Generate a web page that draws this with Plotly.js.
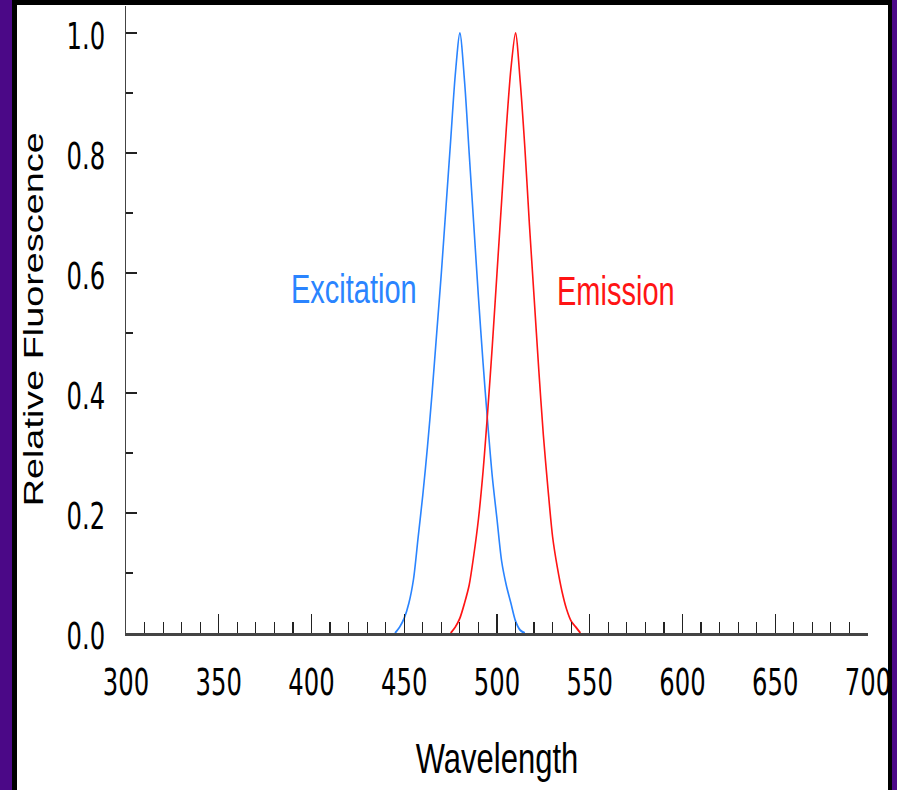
<!DOCTYPE html>
<html><head><meta charset="utf-8">
<script src="https://cdn.plot.ly/plotly-3.0.1.min.js"></script>
<style>
html,body{margin:0;padding:0;}
body{width:897px;height:790px;background:#4b0887;position:relative;overflow:hidden;}
#frame{position:absolute;left:12px;top:0;width:880px;height:790px;background:#000;}
#inner{position:absolute;left:5px;top:5px;width:871px;height:785px;background:#fff;}
#chart{position:absolute;left:0;top:0;width:897px;height:564px;transform:scaleY(1.40071);transform-origin:0 0;}
</style></head>
<body>
<div id="frame"><div id="inner"></div></div>
<div id="chart"></div>
<script>
// Wavelength (nm) sampled along the curves
var excitationWavelength = [445,447.5,450,452.5,455,457.5,460,462.5,465,467.5,470,472.5,475,477.5,480,482.5,485,487.5,490,492.5,495,497.5,500,502.5,505,507.5,510,512.5,515];
var excitationValue      = [0,0.01,0.025,0.05,0.09,0.16,0.23,0.31,0.40,0.50,0.60,0.71,0.82,0.93,1.0,0.92,0.80,0.68,0.56,0.45,0.35,0.26,0.19,0.12,0.08,0.05,0.02,0.005,0];
var emissionWavelength = [475,477.5,480,482.5,485,487.5,490,492.5,495,497.5,500,502.5,505,507.5,510,512.5,515,517.5,520,522.5,525,527.5,530,532.5,535,537.5,540,542.5,545];
var emissionValue      = [0,0.01,0.025,0.05,0.08,0.13,0.19,0.27,0.37,0.48,0.60,0.72,0.84,0.94,1.0,0.92,0.81,0.68,0.56,0.44,0.33,0.24,0.16,0.11,0.07,0.04,0.02,0.01,0];
var seriesNames = ['Excitation','Emission'];
var labelX = [423, 564];
var labelY = [0.575, 0.57];
var xTitle = 'Wavelength';
var yTitle = 'Relative Fluorescence';

var BLUE = '#2a84ff', RED = '#ff1414';
var narrow = '"Liberation Sans Narrow","DejaVu Sans Condensed","Arial Narrow",sans-serif';
var sans = '"Liberation Sans",Arial,Helvetica,sans-serif';

var traces = [
  {x: excitationWavelength, y: excitationValue, type:'scatter', mode:'lines', name: seriesNames[0],
   line:{color:BLUE, width:1.6, shape:'spline', smoothing:0.8}},
  {x: emissionWavelength, y: emissionValue, type:'scatter', mode:'lines', name: seriesNames[1],
   line:{color:RED, width:1.6, shape:'spline', smoothing:0.8}}
];

var layout = {
  width: 897, height: 564,
  margin: {l:126, r:29, t:4, b:112, pad:0},
  paper_bgcolor:'rgba(0,0,0,0)', plot_bgcolor:'rgba(0,0,0,0)',
  showlegend:false,
  xaxis: {
    range:[300,700.01], tick0:300, dtick:50, ticks:'inside', ticklen:14, tickwidth:1.3, tickcolor:'#222',
    showline:true, linecolor:'#444', linewidth:1.8, showgrid:false, zeroline:false, fixedrange:true,
    minor:{dtick:10, ticks:'inside', ticklen:8, tickwidth:1.2, tickcolor:'#222', showgrid:false},
    tickfont:{family:narrow, size:27, color:'#000'},
    ticklabelstandoff: 10,
    title:{text:xTitle, font:{family:sans, size:31, color:'#000'}, standoff:29}
  },
  yaxis: {
    range:[0,1.0457], tick0:0, dtick:0.2, tickformat:'.1f', ticks:'inside', ticklen:11, tickwidth:1, tickcolor:'#222',
    showline:true, linecolor:'#444', linewidth:1.5, showgrid:false, zeroline:false, fixedrange:true,
    minor:{dtick:0.1, ticks:'inside', ticklen:7, tickwidth:1, tickcolor:'#222', showgrid:false},
    tickfont:{family:narrow, size:27, color:'#000'},
    ticklabelstandoff: 14, ticklabelshift:2,
    title:{text:yTitle, font:{family:sans, size:27, color:'#000'}, standoff:15}
  },
  annotations: [
    {x:labelX[0], y:labelY[0], xref:'x', yref:'y', text:seriesNames[0], showarrow:false,
     font:{family:sans, size:29, color:BLUE}},
    {x:labelX[1], y:labelY[1], xref:'x', yref:'y', text:seriesNames[1], showarrow:false,
     font:{family:sans, size:29, color:RED}}
  ]
};

Plotly.newPlot('chart', traces, layout, {staticPlot:true, displayModeBar:false});
</script>
</body></html>
